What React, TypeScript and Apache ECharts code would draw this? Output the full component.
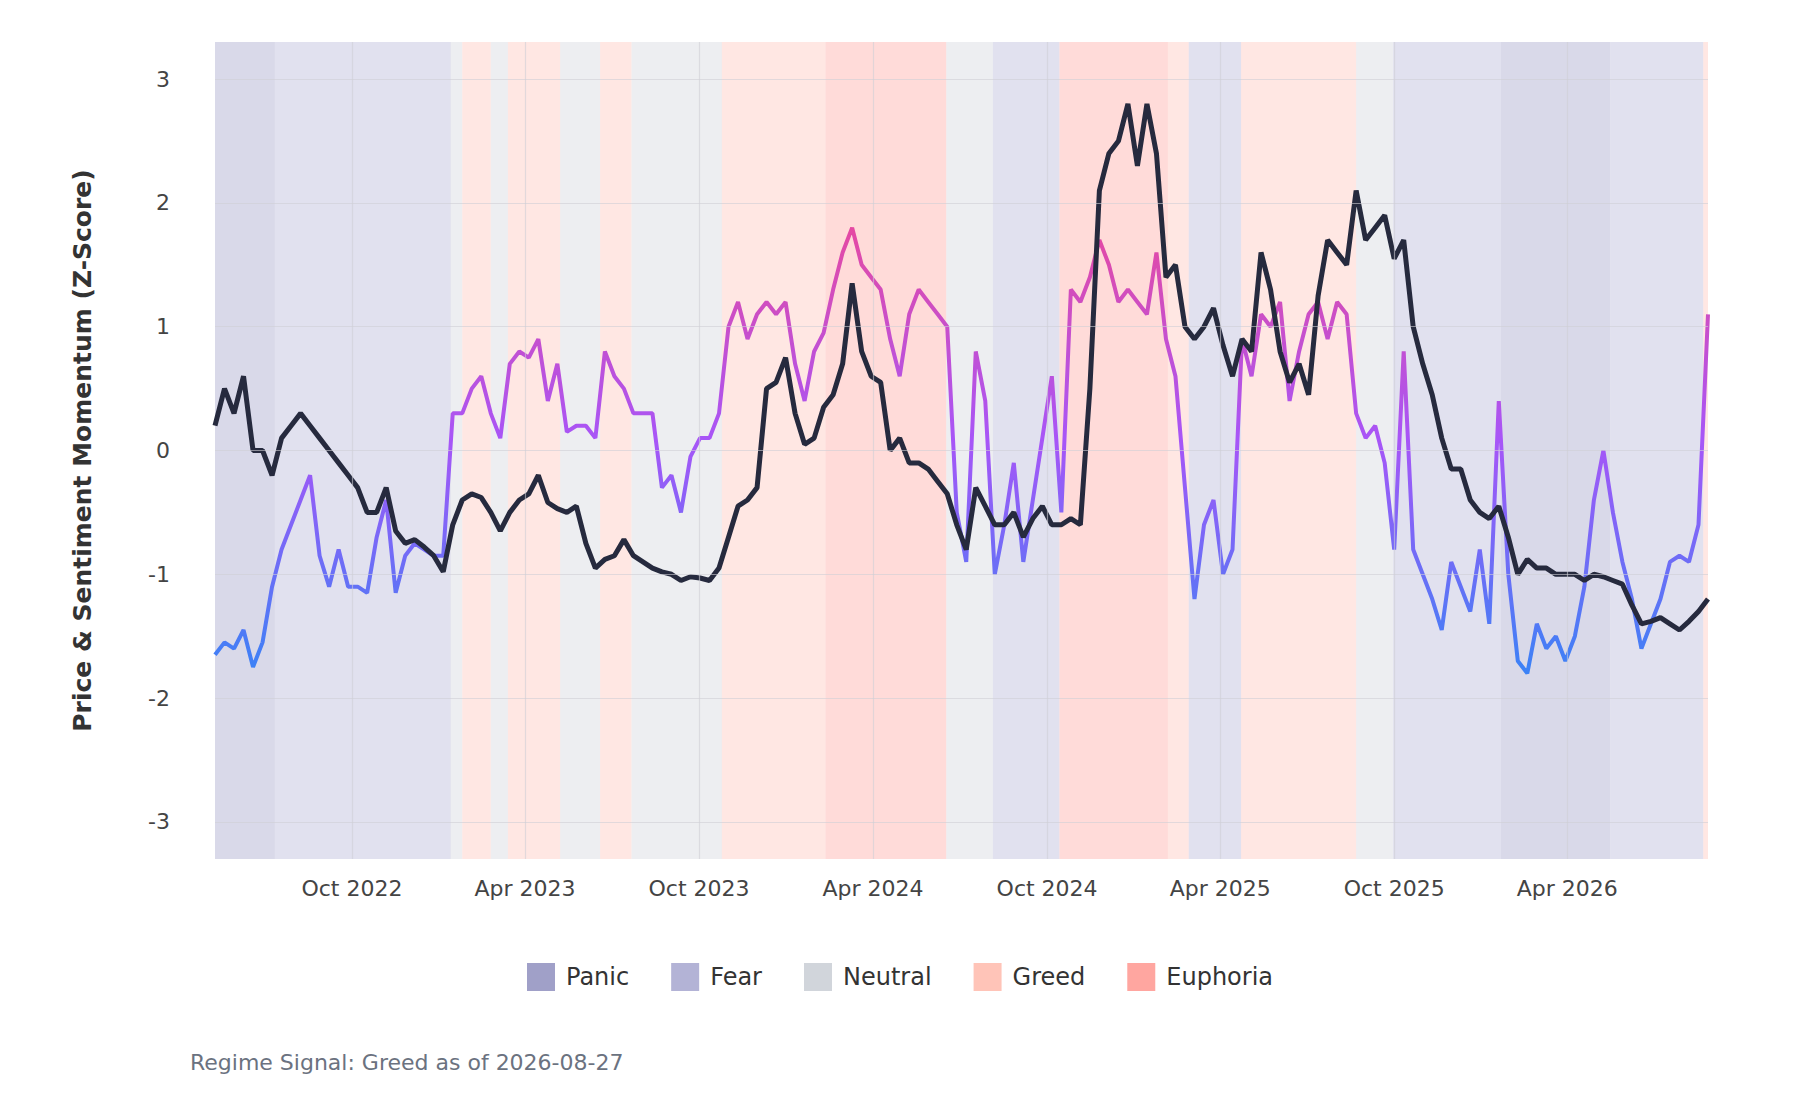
import { useEffect, useRef } from "react";
import * as echarts from "echarts";

const START = "2022-05-10";
const STEP_DAYS = 10;

const price = [
  0.2, 0.5, 0.3, 0.6, 0.0, 0.0, -0.2, 0.1, 0.2, 0.3, 0.2, 0.1, 0.0, -0.1, -0.2, -0.3, -0.5, -0.5, -0.3, -0.65,
  -0.75, -0.72, -0.78, -0.85, -0.98, -0.6, -0.4, -0.35, -0.38, -0.5, -0.65, -0.5, -0.4, -0.35, -0.2, -0.42, -0.47, -0.5, -0.45, -0.75,
  -0.95, -0.88, -0.85, -0.72, -0.85, -0.9, -0.95, -0.98, -1.0, -1.05, -1.02, -1.03, -1.05, -0.95, -0.7, -0.45, -0.4, -0.3, 0.5, 0.55,
  0.75, 0.3, 0.05, 0.1, 0.35, 0.45, 0.7, 1.35, 0.8, 0.6, 0.55, 0.0, 0.1, -0.1, -0.1, -0.15, -0.25, -0.35, -0.6, -0.8,
  -0.3, -0.45, -0.6, -0.6, -0.5, -0.7, -0.55, -0.45, -0.6, -0.6, -0.55, -0.6, 0.5, 2.1, 2.4, 2.5, 2.8, 2.3, 2.8, 2.4,
  1.4, 1.5, 1.0, 0.9, 1.0, 1.15, 0.85, 0.6, 0.9, 0.8, 1.6, 1.3, 0.8, 0.55, 0.7, 0.45, 1.25, 1.7, 1.6, 1.5,
  2.1, 1.7, 1.8, 1.9, 1.55, 1.7, 1.0, 0.7, 0.45, 0.1, -0.15, -0.15, -0.4, -0.5, -0.55, -0.45, -0.7, -1.0, -0.88, -0.95,
  -0.95, -1.0, -1.0, -1.0, -1.05, -1.0, -1.02, -1.05, -1.08, -1.25, -1.4, -1.38, -1.35, -1.4, -1.45, -1.38, -1.3, -1.2,
];

const sentiment = [
  -1.65, -1.55, -1.6, -1.45, -1.75, -1.55, -1.1, -0.8, -0.6, -0.4, -0.2, -0.85, -1.1, -0.8, -1.1, -1.1, -1.15, -0.7, -0.4, -1.15,
  -0.85, -0.75, -0.8, -0.85, -0.85, 0.3, 0.3, 0.5, 0.6, 0.3, 0.1, 0.7, 0.8, 0.75, 0.9, 0.4, 0.7, 0.15, 0.2, 0.2,
  0.1, 0.8, 0.6, 0.5, 0.3, 0.3, 0.3, -0.3, -0.2, -0.5, -0.05, 0.1, 0.1, 0.3, 1.0, 1.2, 0.9, 1.1, 1.2, 1.1,
  1.2, 0.7, 0.4, 0.8, 0.95, 1.3, 1.6, 1.8, 1.5, 1.4, 1.3, 0.9, 0.6, 1.1, 1.3, 1.2, 1.1, 1.0, -0.5, -0.9,
  0.8, 0.4, -1.0, -0.6, -0.1, -0.9, -0.4, 0.1, 0.6, -0.5, 1.3, 1.2, 1.4, 1.7, 1.5, 1.2, 1.3, 1.2, 1.1, 1.6,
  0.9, 0.6, -0.3, -1.2, -0.6, -0.4, -1.0, -0.8, 0.9, 0.6, 1.1, 1.0, 1.2, 0.4, 0.8, 1.1, 1.2, 0.9, 1.2, 1.1,
  0.3, 0.1, 0.2, -0.1, -0.8, 0.8, -0.8, -1.0, -1.2, -1.45, -0.9, -1.1, -1.3, -0.8, -1.4, 0.4, -1.0, -1.7, -1.8, -1.4,
  -1.6, -1.5, -1.7, -1.5, -1.1, -0.4, 0.0, -0.5, -0.9, -1.2, -1.6, -1.4, -1.2, -0.9, -0.85, -0.9, -0.6, 1.1,
];

const regimeNames = ["Panic", "Fear", "Neutral", "Greed", "Euphoria"];
const regimeColors = ["#a0a0c8", "#b3b3d6", "#d1d5db", "#ffc4b8", "#ffa6a0"];

// [start, end, regime]
const regimeBands: [string, string, string][] = [
  ["2022-05-10", "2022-07-12", "Panic"],
  ["2022-07-12", "2023-01-13", "Fear"],
  ["2023-01-13", "2023-01-25", "Neutral"],
  ["2023-01-25", "2023-02-24", "Greed"],
  ["2023-02-24", "2023-03-14", "Neutral"],
  ["2023-03-14", "2023-05-08", "Greed"],
  ["2023-05-08", "2023-06-19", "Neutral"],
  ["2023-06-19", "2023-07-22", "Greed"],
  ["2023-07-22", "2023-10-25", "Neutral"],
  ["2023-10-25", "2024-02-11", "Greed"],
  ["2024-02-11", "2024-06-17", "Euphoria"],
  ["2024-06-17", "2024-08-05", "Neutral"],
  ["2024-08-05", "2024-10-14", "Fear"],
  ["2024-10-14", "2025-02-05", "Euphoria"],
  ["2025-02-05", "2025-02-27", "Greed"],
  ["2025-02-27", "2025-04-23", "Fear"],
  ["2025-04-23", "2025-08-22", "Greed"],
  ["2025-08-22", "2025-09-30", "Neutral"],
  ["2025-09-30", "2026-01-21", "Fear"],
  ["2026-01-21", "2026-05-16", "Panic"],
  ["2026-05-16", "2026-08-22", "Fear"],
  ["2026-08-22", "2026-08-27", "Greed"],
];

const xTicks = ["2022-10-01", "2023-04-01", "2023-10-01", "2024-04-01", "2024-10-01", "2025-04-01", "2025-10-01", "2026-04-01"];
const yTicks = [-3, -2, -1, 0, 1, 2, 3];
const MONTHS = ["Jan", "Feb", "Mar", "Apr", "May", "Jun", "Jul", "Aug", "Sep", "Oct", "Nov", "Dec"];

export default function App() {
  const ref = useRef<HTMLDivElement>(null);
  useEffect(() => {
    if (!ref.current) return;
    const chart = echarts.init(ref.current, null, { renderer: "svg" });
    const ts = (s: string) => new Date(s + "T00:00:00").getTime();
    const t0 = ts(START);
    const dates = price.map((_, i) => t0 + i * STEP_DAYS * 86400000);
    const colorOf = (r: string) => regimeColors[regimeNames.indexOf(r)];
    chart.setOption({
      animation: false,
      title: {
        text: "Regime Signal: Greed as of 2026-08-27",
        left: 185,
        top: 1046,
        textStyle: { fontSize: 22, fontWeight: "normal", color: "#6b7280", fontFamily: "DejaVu Sans" },
      },
      legend: {
        data: regimeNames,
        top: 958,
        left: "center",
        icon: "rect",
        itemWidth: 28,
        itemHeight: 28,
        itemGap: 42,
        textStyle: { fontSize: 24, color: "#333", fontFamily: "DejaVu Sans", padding: [0, 0, 0, 6] },
      },
      grid: { left: 215, right: 92, top: 42, bottom: 241 },
      xAxis: {
        type: "value",
        min: ts("2022-05-10"),
        max: ts("2026-08-27"),
        axisLine: { show: false },
        axisTick: { show: false },
        splitLine: { show: false },
        axisLabel: {
          customValues: xTicks.map(ts),
          margin: 18,
          fontSize: 22,
          color: "#444",
          fontFamily: "DejaVu Sans",
          formatter: (v: number) => {
            const d = new Date(v);
            return MONTHS[d.getMonth()] + " " + d.getFullYear();
          },
        },
      },
      yAxis: {
        type: "value",
        min: -3.3,
        max: 3.3,
        name: "Price & Sentiment Momentum (Z-Score)",
        nameLocation: "middle",
        nameGap: 120,
        nameTextStyle: { fontSize: 25, fontWeight: "bold", color: "#333", fontFamily: "DejaVu Sans" },
        axisLine: { show: false },
        axisTick: { show: false },
        splitLine: { show: false },
        axisLabel: {
          customValues: yTicks,
          margin: 45,
          fontSize: 22,
          color: "#444",
          fontFamily: "DejaVu Sans",
          formatter: (v: number) => String(Math.round(v)),
        },
      },
      visualMap: {
        show: false,
        type: "continuous",
        seriesIndex: 1,
        dimension: 1,
        min: -1.8,
        max: 2.0,
        inRange: { color: ["#3b82f6", "#a855f7", "#ec4899"] },
      },
      series: [
        {
          type: "line",
          name: "bands",
          data: [],
          markArea: {
            silent: true,
            data: regimeBands.map(([a, b, r]) => [
              { xAxis: ts(a), itemStyle: { color: colorOf(r), opacity: 0.4 } },
              { xAxis: ts(b) },
            ]),
          },
          markLine: {
            silent: true,
            symbol: "none",
            label: { show: false },
            lineStyle: { color: "#cfcfd6", type: "solid", width: 1.2, opacity: 0.6 },
            data: [...yTicks.map((y) => ({ yAxis: y })), ...xTicks.map((x) => ({ xAxis: ts(x) }))],
          },
        },
        {
          type: "line",
          name: "Sentiment",
          data: dates.map((d, i) => [d, sentiment[i]]),
          showSymbol: false,
          lineStyle: { width: 4 },
          z: 3,
        },
        {
          type: "line",
          name: "Price",
          data: dates.map((d, i) => [d, price[i]]),
          showSymbol: false,
          lineStyle: { width: 5, color: "#262a3e" },
          itemStyle: { color: "#262a3e" },
          z: 4,
        },
        ...regimeNames.map((n, i) => ({
          type: "line",
          name: n,
          data: [],
          itemStyle: { color: regimeColors[i] },
        })),
      ],
    });
    return () => chart.dispose();
  }, []);
  return (
    <div style={{ position: "fixed", left: 0, top: 0, width: 1800, height: 1100, background: "#fff" }}>
      <div ref={ref} style={{ width: 1800, height: 1100 }} />
    </div>
  );
}
